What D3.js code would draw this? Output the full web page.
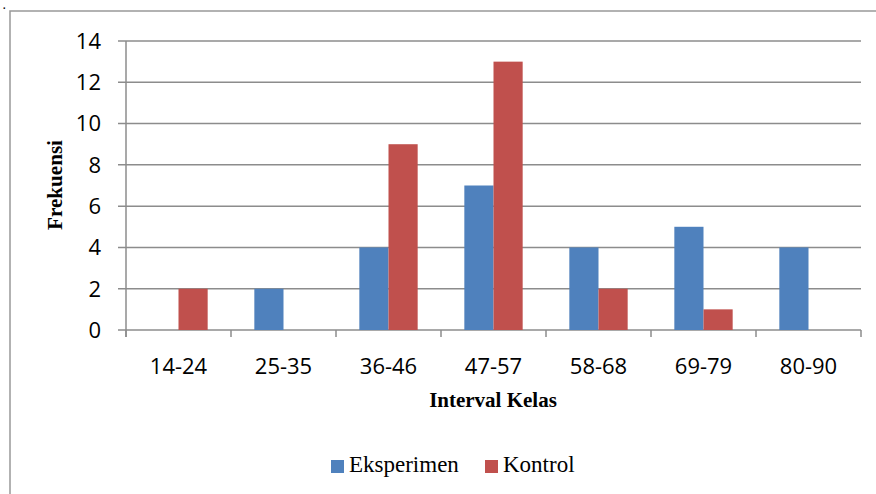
<!DOCTYPE html>
<html><head><meta charset="utf-8">
<script src="https://cdn.jsdelivr.net/npm/d3@7"></script>
<style>body{margin:0;background:#fff}svg{display:block}</style>
</head><body>
<script>
const categories = ["14-24","25-35","36-46","47-57","58-68","69-79","80-90"];
const seriesNames = ["Eksperimen","Kontrol"];
const eksperimen = [0,2,4,7,4,5,4];
const kontrol = [2,0,9,13,2,1,0];
const yTicks = [0,2,4,6,8,10,12,14];
const colors = ["#4F81BD","#C0504D"];

const W=876,H=494;
const svg=d3.select("body").append("svg").attr("width",W).attr("height",H);
svg.append("rect").attr("x",10).attr("y",11).attr("width",W).attr("height",H).attr("fill","none").attr("stroke","#999").attr("stroke-width",1.5);
svg.append("text").attr("x",3).attr("y",9).attr("font-family","Liberation Serif").attr("font-weight","bold").attr("font-size",10).text(".");

const m={l:126,r:861,t:41,b:330};
const x=d3.scaleBand().domain(categories).range([m.l,m.r]);
const x1=d3.scaleBand().domain(seriesNames).range([0,x.bandwidth()]).paddingInner(0).paddingOuter(0.8);
const y=d3.scaleLinear().domain([0,14]).range([m.b,m.t]);
const grey="#8c8c8c";

svg.append("g").selectAll("line").data(yTicks).join("line")
 .attr("x1",m.l-8).attr("x2",m.r).attr("y1",d=>y(d)).attr("y2",d=>y(d))
 .attr("stroke",grey).attr("stroke-width",1.5);
svg.append("line").attr("x1",m.l).attr("x2",m.l).attr("y1",m.t).attr("y2",m.b+7).attr("stroke",grey).attr("stroke-width",1.5);
const tickXs=categories.map(c=>x(c)).concat([x(categories[categories.length-1])+x.bandwidth()]);
svg.append("g").selectAll("line").data(tickXs).join("line")
 .attr("x1",d=>d).attr("x2",d=>d).attr("y1",m.b).attr("y2",m.b+7)
 .attr("stroke",grey).attr("stroke-width",1.5);

const data=[eksperimen,kontrol];
seriesNames.forEach((s,i)=>{
  svg.append("g").selectAll("rect").data(categories).join("rect")
   .attr("x",c=>x(c)+x1(s)).attr("width",x1.bandwidth())
   .attr("y",(c,j)=>y(data[i][j])).attr("height",(c,j)=>y(0)-y(data[i][j]))
   .attr("fill",colors[i]);
});

svg.append("g").selectAll("text").data(yTicks).join("text")
 .attr("x",101).attr("y",d=>y(d)).attr("dy","0.36em").attr("text-anchor","end")
 .attr("font-family","Open Sans, sans-serif").attr("font-size",22).text(d=>d);
svg.append("g").selectAll("text").data(categories).join("text")
 .attr("x",c=>x(c)+x.bandwidth()/2).attr("y",366).attr("dy","0.36em").attr("text-anchor","middle")
 .attr("font-family","Open Sans, sans-serif").attr("font-size",22).text(c=>c);

svg.append("text").attr("transform","translate(62,185) rotate(-90)").attr("text-anchor","middle")
 .attr("font-family","Liberation Serif").attr("font-weight","bold").attr("font-size",20)
 .attr("textLength",90).attr("lengthAdjust","spacingAndGlyphs").text("Frekuensi");
svg.append("text").attr("x",493).attr("y",407).attr("text-anchor","middle")
 .attr("font-family","Liberation Serif").attr("font-weight","bold").attr("font-size",21).text("Interval Kelas");

const lg=[{x:331,tx:349},{x:485,tx:503}];
seriesNames.forEach((s,i)=>{
  svg.append("rect").attr("x",lg[i].x).attr("y",460).attr("width",13).attr("height",13).attr("fill",colors[i]);
  svg.append("text").attr("x",lg[i].tx).attr("y",472).attr("font-family","Liberation Serif").attr("font-size",23).text(s);
});
</script>
</body></html>
